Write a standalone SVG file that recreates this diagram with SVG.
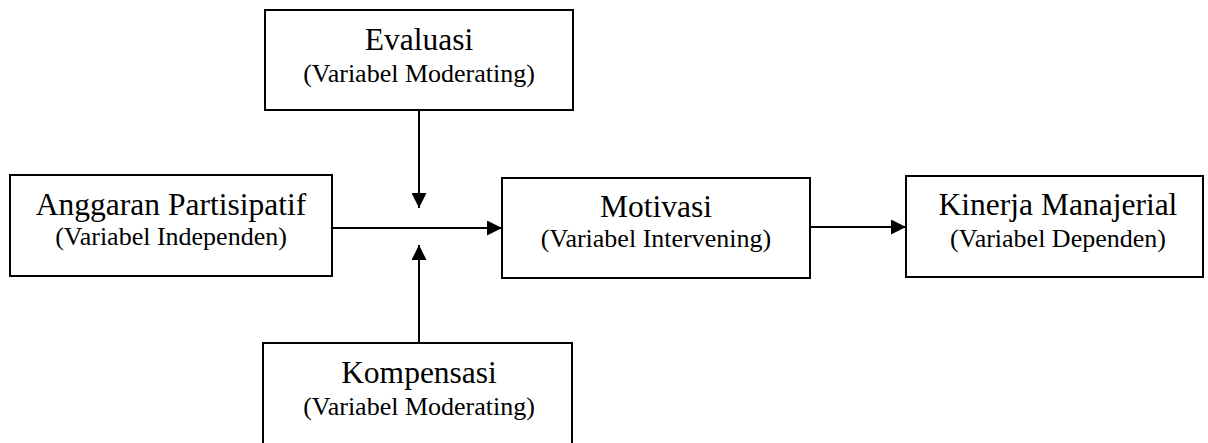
<svg xmlns="http://www.w3.org/2000/svg" width="1208" height="443" viewBox="0 0 1208 443">
<style>
.box{fill:#fff;stroke:#000;stroke-width:2}
.t{font-family:"Liberation Serif","Times New Roman",serif;font-size:31.5px;fill:#000;text-anchor:middle}
.s{font-family:"Liberation Serif","Times New Roman",serif;font-size:26px;fill:#000;text-anchor:middle}
.c{stroke:#000;stroke-width:2;fill:none}
</style>
<defs>
<marker id="ah" viewBox="0 0 15 15" refX="15" refY="7.5" markerWidth="15" markerHeight="15" markerUnits="userSpaceOnUse" orient="auto">
<path d="M0,0 L15,7.5 L0,15 Z" fill="#000"/>
</marker>
</defs>
<rect width="1208" height="443" fill="#fff"/>
<g id="connectors">
<line class="c" x1="419" y1="110" x2="419" y2="208" marker-end="url(#ah)"/>
<line class="c" x1="419" y1="343" x2="419" y2="245" marker-end="url(#ah)"/>
<line class="c" x1="332" y1="228" x2="502" y2="228" marker-end="url(#ah)"/>
<line class="c" x1="810" y1="227" x2="906" y2="227" marker-end="url(#ah)"/>
</g>
<g id="evaluasi">
<rect class="box" x="265" y="10" width="308" height="100"/>
<text class="t" x="419" y="50">Evaluasi</text>
<text class="s" x="419" y="82">(Variabel Moderating)</text>
</g>
<g id="anggaran">
<rect class="box" x="10" y="175" width="322" height="101"/>
<text class="t" x="171" y="215">Anggaran Partisipatif</text>
<text class="s" x="171" y="245">(Variabel Independen)</text>
</g>
<g id="motivasi">
<rect class="box" x="502" y="178" width="308" height="100"/>
<text class="t" x="656" y="217">Motivasi</text>
<text class="s" x="656" y="247">(Variabel Intervening)</text>
</g>
<g id="kinerja">
<rect class="box" x="906" y="176" width="297" height="101"/>
<text class="t" x="1058" y="215">Kinerja Manajerial</text>
<text class="s" x="1058" y="247">(Variabel Dependen)</text>
</g>
<g id="kompensasi">
<rect class="box" x="263" y="343" width="309" height="110"/>
<text class="t" x="419" y="383">Kompensasi</text>
<text class="s" x="419" y="415">(Variabel Moderating)</text>
</g>
</svg>
